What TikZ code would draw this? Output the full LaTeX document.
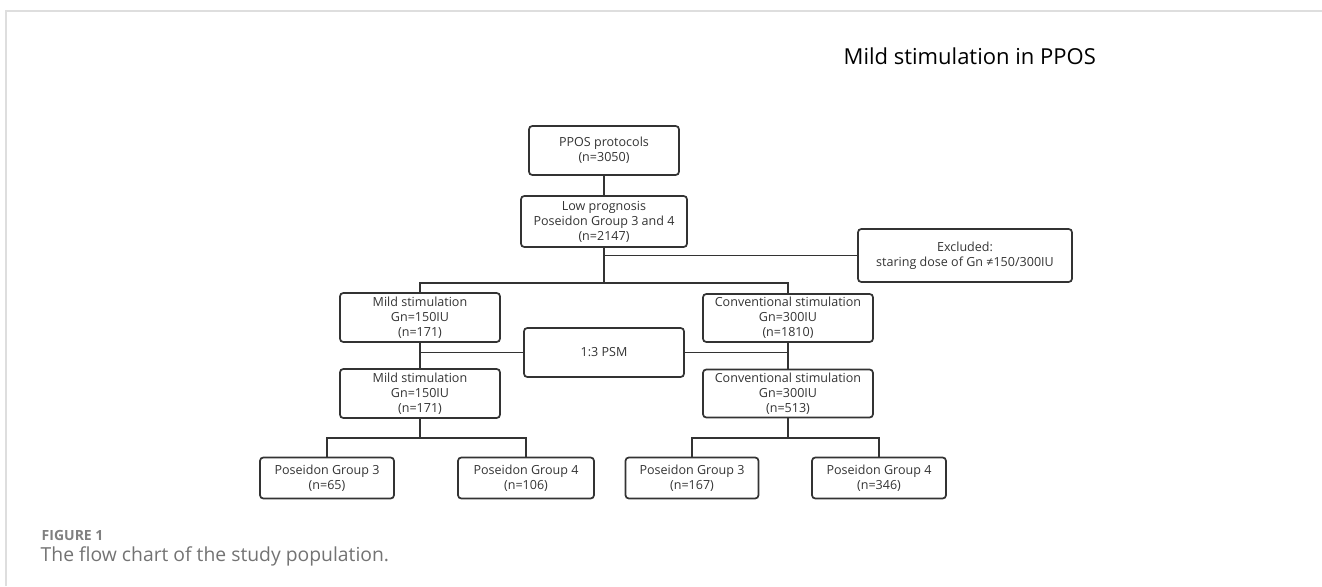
\documentclass[tikz,border=0pt]{standalone}
\usepackage{fontspec}
\setmainfont{Open Sans}
\begin{document}
\begin{tikzpicture}[x={0.75pt},y={-0.75pt},
  box/.style={draw=black!80,line width=1.3pt,rounded corners=2.5pt,align=center,inner sep=0pt,
    font=\fontsize{9.4}{11.25}\selectfont,text=black!80},
  wh/.style 2 args={minimum width=#1*0.75pt,minimum height=#2*0.75pt},
  link/.style={draw=black!80,line width=1.3pt}]
\useasboundingbox(0,0)rectangle(1322,586);
\draw[black!13,line width=1.5pt](6,586)--(6,11)--(1322,11);
\node[anchor=west,font=\fontsize{16.5}{20}\selectfont](title)at(839,56){Mild stimulation in PPOS};
% boxes
\node[box,wh={150}{49}](ppos)at(604,150.5){PPOS protocols\\(n=3050)};
\node[box,wh={166}{51}](lowprog)at(604,221.5){Low prognosis\\Poseidon Group 3 and 4\\(n=2147)};
\node[box,wh={214}{53}](excl)at(965,255.5){Excluded:\\staring dose of Gn ≠150/300IU};
\node[box,wh={160}{49}](mildA)at(420,317.5){Mild stimulation\\Gn=150IU\\(n=171)};
\node[box,wh={170}{48}](convA)at(788,318){Conventional stimulation\\Gn=300IU\\(n=1810)};
\node[box,wh={160}{49}](psm)at(604,352.5){1:3 PSM};
\node[box,wh={160}{49}](mildB)at(420,393.5){Mild stimulation\\Gn=150IU\\(n=171)};
\node[box,wh={170}{48}](convB)at(788,393.5){Conventional stimulation\\Gn=300IU\\(n=513)};
\node[box,wh={134}{41}](mildG3)at(327,478){Poseidon Group 3\\(n=65)};
\node[box,wh={136}{41}](mildG4)at(526,478){Poseidon Group 4\\(n=106)};
\node[box,wh={133}{41}](convG3)at(692,478){Poseidon Group 3\\(n=167)};
\node[box,wh={134}{41}](convG4)at(879,478){Poseidon Group 4\\(n=346)};
% connectors
\coordinate(splitA)at(604,283);
\coordinate(splitB)at(420,438);
\coordinate(splitC)at(788,438);
\draw[link](ppos)--(lowprog);
\draw[link](lowprog.south)--(splitA);
\draw[link](lowprog.south|-excl.west)--(excl.west);
\draw[link](mildA.north)|-(splitA)-|(convA.north);
\draw[link](mildA)--(mildB);
\draw[link](convA)--(convB);
\draw[link](psm.west)--(psm.west-|mildA.south);
\draw[link](psm.east)--(psm.east-|convA.south);
\draw[link](mildB.south)--(splitB);
\draw[link](mildG3.north)|-(splitB)-|(mildG4.north);
\draw[link](convB.south)--(splitC);
\draw[link](convG3.north)|-(splitC)-|(convG4.north);
% caption
\node[anchor=west,text=black!50,font=\bfseries\fontsize{10.5}{12}\selectfont](figno)at(37,535){FIGURE 1};
\node[anchor=west,text=black!55,font=\fontsize{14.5}{17}\selectfont](caption)at(36,556){The flow chart of the study population.};
\end{tikzpicture}
\end{document}
